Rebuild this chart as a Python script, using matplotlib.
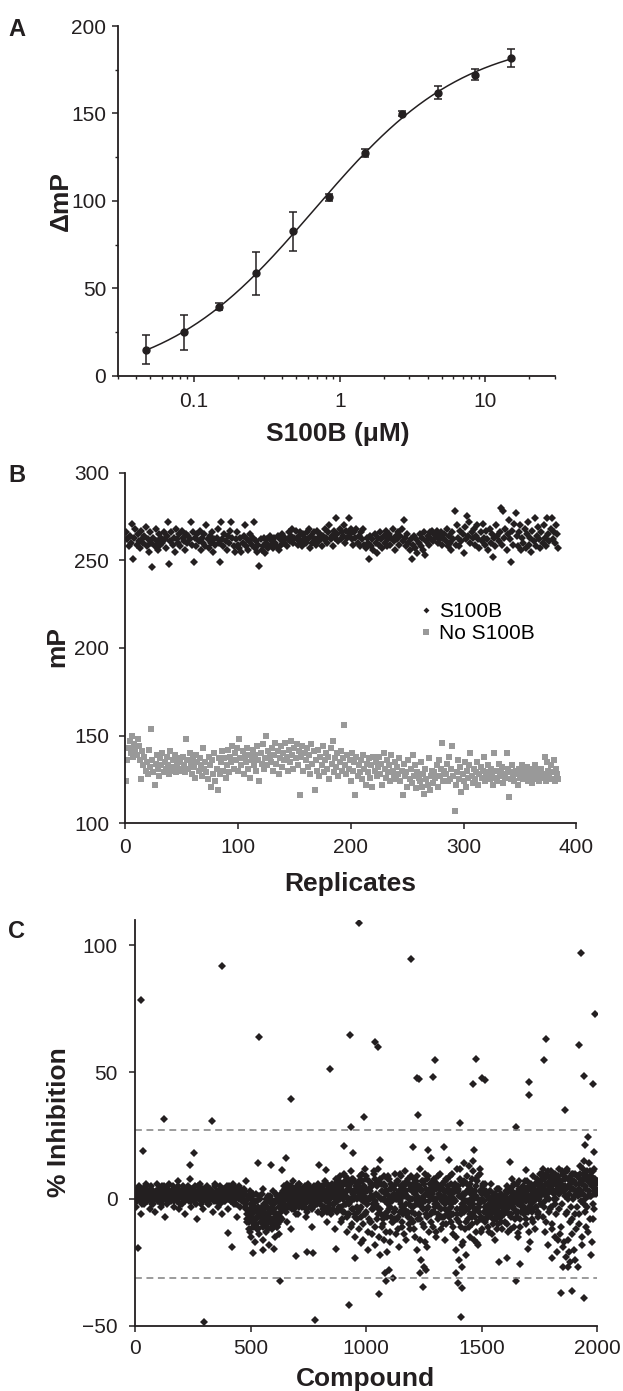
import numpy as np
import matplotlib.pyplot as plt
from matplotlib.lines import Line2D
from matplotlib.ticker import LogLocator, NullFormatter, MultipleLocator

plt.rcParams["font.family"] = ["Liberation Sans", "DejaVu Sans"]

# ---------------- Panel A: titration ----------------
conc = [0.047, 0.085, 0.149, 0.267, 0.474, 0.843, 1.5, 2.67, 4.74, 8.43, 15.0]
dmp = [14.9, 24.8, 39.3, 58.5, 82.6, 102.2, 127.4, 149.9, 161.9, 172.2, 181.9]
dmp_err = [8.3, 10.0, 2.0, 12.5, 11.0, 2.0, 2.2, 1.5, 3.8, 3.0, 5.2]

# ---------------- Panel B: Z' replicates ----------------
s100b = [
    266, 262, 258, 264, 260, 271, 251, 263, 268, 259, 265, 261, 257, 267, 262, 260,
    264, 269, 258, 262, 255, 266, 260, 246, 263, 258, 268, 261, 256, 265, 259, 263,
    260, 266, 262, 257, 264, 272, 248, 261, 266, 259, 263, 255, 268, 262, 260, 265,
    258, 267, 263, 261, 256, 265, 260, 264, 262, 272, 259, 266, 249, 263, 258, 265,
    261, 267, 256, 263, 260, 265, 258, 270, 262, 257, 264, 260, 266, 255, 262, 259,
    263, 268, 260, 249, 272, 262, 258, 265, 261, 256, 264, 260, 267, 272, 263, 258,
    255, 262, 266, 259, 257, 263, 255, 260, 264, 270, 258, 262, 256, 261, 265, 259,
    263, 272, 257, 261, 255, 259, 247, 262, 256, 258, 263, 254, 260, 262, 257, 264,
    259, 261, 257, 263, 260, 258, 264, 256, 262, 259, 265, 261, 260, 263, 258, 262,
    266, 261, 264, 268, 260, 263, 267, 262, 259, 264, 266, 261, 258, 265, 263, 260,
    266, 262, 268, 257, 264, 260, 266, 262, 259, 267, 263, 261, 265, 258, 264, 262,
    268, 263, 260, 266, 270, 262, 264, 258, 267, 263, 274, 265, 261, 268, 262, 266,
    264, 270, 260, 267, 263, 274, 265, 268, 262, 259, 266, 263, 268, 260, 264, 258,
    266, 262, 268, 259, 257, 263, 260, 251, 264, 258, 262, 256, 265, 260, 254, 263,
    259, 266, 262, 257, 264, 260, 267, 258, 262, 265, 259, 263, 268, 261, 256, 264,
    262, 266, 259, 264, 268, 261, 273, 263, 258, 265, 260, 256, 262, 251, 259, 264,
    257, 262, 254, 260, 265, 258, 263, 256, 266, 253, 261, 264, 259, 266, 262, 267,
    261, 265, 263, 267, 260, 264, 262, 266, 259, 263, 265, 261, 268, 258, 264, 260,
    256, 266, 262, 278, 259, 270, 263, 258, 267, 261, 265, 254, 269, 262, 275, 264,
    272, 260, 266, 263, 268, 259, 264, 270, 262, 257, 266, 261, 271, 263, 259, 267,
    262, 256, 268, 260, 265, 252, 263, 258, 270, 264, 261, 266, 280, 259, 278, 263,
    268, 256, 265, 273, 262, 249, 267, 259, 271, 277, 264, 258, 266, 270, 256, 263,
    260, 268, 257, 265, 272, 259, 263, 255, 267, 261, 274, 258, 264, 269, 262, 257,
    266, 260, 270, 263, 258, 274, 265, 261, 268, 274, 262, 266, 260, 270, 265, 257,
]
no_s100b = [
    124, 136, 143, 147, 140, 150, 138, 145, 142, 139, 148, 144, 136, 125, 141, 133,
    138, 130, 135, 128, 142, 132, 154, 136, 129, 122, 134, 139, 131, 127, 137, 133,
    140, 129, 135, 131, 138, 133, 128, 141, 130, 136, 132, 139, 129, 134, 137, 131,
    135, 130, 138, 133, 129, 148, 136, 131, 140, 134, 128, 137, 132, 126, 139, 135,
    130, 137, 133, 127, 143, 131, 135, 129, 125, 138, 133, 121, 136, 128, 140, 124,
    131, 119, 137, 128, 135, 141, 130, 137, 126, 133, 142, 129, 138, 135, 144, 131,
    140, 136, 143, 130, 148, 137, 133, 141, 128, 138, 135, 143, 131, 139, 126, 136,
    142, 133, 139, 130, 144, 136, 124, 140, 134, 145, 131, 137, 150, 133, 141, 138,
    135, 143, 130, 139, 146, 134, 141, 128, 137, 144, 132, 140, 136, 146, 138, 130,
    142, 135, 147, 139, 131, 143, 137, 145, 133, 141, 116, 138, 144, 130, 140, 136,
    143, 132, 139, 128, 145, 134, 141, 119, 136, 130, 142, 127, 138, 133, 144, 129,
    136, 140, 131, 138, 125, 143, 134, 147, 129, 137, 132, 140, 127, 135, 141, 130,
    137, 156, 133, 128, 139, 131, 136, 124, 140, 130, 135, 116, 138, 127, 133, 129,
    136, 125, 139, 131, 122, 134, 129, 137, 126, 133, 121, 138, 130, 135, 127, 132,
    138, 128, 134, 122, 140, 131, 126, 136, 129, 133, 124, 139, 130, 127, 135, 125,
    132, 128, 137, 124, 130, 116, 134, 127, 129, 121, 136, 125, 131, 123, 139, 127,
    133, 120, 129, 126, 124, 135, 121, 128, 117, 131, 125, 122, 137, 119, 127, 130,
    123, 129, 126, 133, 121, 136, 127, 131, 146, 124, 130, 128, 134, 124, 138, 125,
    131, 144, 127, 107, 122, 129, 136, 125, 132, 118, 128, 124, 135, 121, 130, 126,
    133, 140, 127, 123, 131, 125, 129, 135, 122, 128, 132, 126, 130, 138, 124, 129,
    127, 133, 125, 131, 128, 122, 140, 126, 130, 124, 134, 127, 129, 132, 123, 128,
    126, 140, 131, 115, 129, 125, 133, 127, 124, 130, 128, 122, 131, 126, 129, 133,
    125, 130, 127, 132, 124, 129, 126, 131, 123, 128, 133, 125, 130, 127, 124, 129,
    131, 126, 128, 138, 124, 135, 130, 127, 133, 125, 129, 136, 124, 131, 128, 125,
]

# ---------------- Panel C: pilot screen ----------------
# spread of the main band, compounds 0, 4, 8, ...
band_spread = [
    2, -3, 4, 0, 5, -1, 3, -6, 1, 4, -2, 2, 6, -1, 3, 0, -4, 5, 1, -2,
    3, 0, -5, 2, 6, -1, 4, 1, -3, 5, 0, 2, -7, 3, 1, -2, 4, 6, 0, -1,
    2, 5, -3, 1, 4, -1, 7, 0, -4, 3, 2, -2, 5, 1, -6, 4, 0, 3, -1, 8,
    1, -3, 4, 2, -1, 5, 0, -8, 3, 1, 6, -2, 2, 4, -4, 0, 3, -1, 5, 1,
    -2, 4, 1, 3, -5, 2, 0, 6, -1, 3, -3, 1, 5, 0, -6, 2, 4, -1, 3, 0,
    2, -4, 5, 1, -1, 3, 6, -2, 0, 4, -7, 2, 1, 5, -3, 3, 0, -1, 4, 2,
    7, -8, 0, -12, 3, -6, -15, 1, -9, -4, -17, 2, -11, -5, -14, 0, -7, -3, -16, 4,
    -10, -2, -13, -6, 1, -18, -8, -4, -12, 3, -9, -15, -1, -6, -11, 0, -14, -3, 2, -8,
    1, 5, -4, 2, -9, 6, 0, -2, 4, -12, 3, 7, -1, 1, -6, 5, 2, -3, 6, 0,
    4, -1, 3, 0, 5, -7, 2, 6, 1, -3, 4, 0, -11, 3, 5, -2, 1, 4, -5, 2,
    0, 3, -6, 5, 1, -3, 7, 2, -9, 4, 0, -5, 3, 6, -2, 1, -12, 4, 8, -1,
    5, -4, 9, 1, -8, 3, 10, -2, 6, -13, 0, 8, -6, 4, 11, -10, 2, 7, -15, 3,
    -3, 6, -12, 1, 9, -7, 4, -16, 0, 12, -5, 3, -20, 7, -9, 1, -14, 5, -2, 10,
    -18, 2, -8, 12, -4, -22, 6, -11, 0, -16, 9, -6, 3, -21, -2, 8, -13, 4, -9, 1,
    -5, 10, -14, 2, -8, 7, -19, 0, 5, -11, 3, -4, 11, -16, 1, -7, 6, -2, -12, 9,
    0, -9, 8, -15, 3, -20, 5, -6, 12, -2, -24, 7, -10, 1, -17, 4, -4, 9, -13, 2,
    -6, 5, -11, 0, 8, -3, -15, 6, -8, 2, 10, -12, -1, 4, -7, 7, -2, -10, 3, 0,
    -4, 9, -9, 2, -14, 5, -1, -20, 12, -6, 3, -24, 8, -11, 1, -17, 14, -3, -22, 6,
    -8, 13, -2, -15, 4, -10, 15, -5, 1, -13, 7, -18, -3, 10, -7, 2, -12, 5, -1, -9,
    3, -6, -11, 0, -4, 6, -14, -2, -8, 1, -16, -5, 4, -10, -3, -7, 2, -12, -1, -6,
    -9, 0, -4, 5, -13, -1, 3, -7, 8, -2, -11, 2, -5, 6, -15, 0, 4, -8, 1, -3,
    5, -6, 2, -10, 7, 0, -3, -17, 4, 1, -8, 9, -1, -12, 3, 6, -5, 0, 10, -2,
    8, 12, -7, 4, -13, 10, 2, -18, 6, -4, 11, -10, 3, 7, -15, 9, 0, -21, 5, 12,
    -14, 6, 11, -19, 3, 8, -23, 1, 12, -16, 5, -25, 9, -8, 4, -20, 10, -12, 2, -27,
    6, -10, 13, 2, -18, 8, 15, -5, 4, 11, -13, 7, 1, -22, 9, 5, -8, 12, 3, 6,
]
# core of the main band, compounds 2, 6, 10, ...
band_core = [
    1, 3, -1, 2, 0, 4, 1, -2, 3, 2, 0, 5, 1, -1, 2, 3, 0, 4, -2, 1,
    2, 0, 3, 1, -1, 4, 2, 0, 3, -2, 1, 5, 0, 2, 4, -1, 3, 1, 2, 0,
    3, 1, -1, 4, 2, 0, 5, 1, -2, 3, 2, 0, 4, 1, -1, 3, 2, 5, 0, 1,
    -1, 2, 4, 0, 3, 1, -2, 2, 5, 0, 1, 3, -1, 4, 2, 0, 3, 1, -2, 2,
    4, 1, 0, 3, 2, -1, 5, 1, 2, 0, 3, -2, 1, 4, 0, 2, -1, 3, 1, 5,
    0, 2, 3, -1, 4, 1, 0, 5, 2, -2, 3, 1, 0, 4, 2, -1, 1, 3, -3, 2,
    -2, -6, 1, -9, -4, -8, 0, -11, -5, -3, -10, -7, -1, -12, -6, -4, -9, 2, -8, -5,
    -7, -3, -10, -1, -6, -9, -4, 0, -11, -5, -2, -8, -6, 1, -10, -3, -7, -2, 0, -4,
    2, -1, 4, 0, -3, 3, 1, 5, -2, 2, 0, 4, -4, 1, 3, -1, 2, 6, 0, -2,
    3, 0, -2, 4, 1, -4, 2, 5, -1, 3, 0, 1, -3, 4, 2, 0, -2, 3, 1, 5,
    -1, 2, 4, 0, -3, 3, 1, -5, 2, 5, 0, -2, 4, 1, -4, 3, 6, 0, -1, 2,
    4, 0, -3, 6, 2, -5, 1, 7, -2, 3, -6, 5, 0, -1, 8, -4, 3, 1, -7, 4,
    0, -5, 5, 2, -3, 7, -1, 1, -6, 4, 9, -2, 0, -8, 3, 6, -4, 1, -3, 8,
    -2, 5, -6, 1, 7, -4, 0, 3, -8, 6, -1, 2, -5, 8, 0, -3, 4, -7, 1, 5,
    2, -4, 6, 0, -7, 3, -1, 9, -3, 1, -6, 5, 2, -2, 7, -5, 0, 4, -8, 3,
    -3, 4, 0, -6, 7, 1, -2, 5, -8, 3, 0, -4, 6, -1, 2, -7, 8, -3, 1, 4,
    1, -5, 3, 7, -2, 0, 5, -6, 2, -3, 4, 0, -7, 6, 1, -4, 3, 8, -1, -5,
    2, -3, 6, 0, -6, 4, -1, 3, -8, 5, 1, -4, 7, -2, 0, 6, -5, 2, -9, 3,
    -1, 4, -6, 2, 8, -3, 0, -7, 5, 1, -4, 9, -2, 3, -8, 0, 6, -5, 2, -3,
    -4, 1, -7, -2, 3, -5, 0, -8, -3, 2, -6, -1, 4, -5, -2, 1, -7, -3, 0, -4,
    -2, 3, -5, 0, -3, 4, -6, 1, -1, 5, -4, 0, 2, -7, -2, 3, 0, -5, 4, -1,
    1, -3, 4, -1, 2, -5, 5, 0, -2, 3, -4, 1, 6, -3, 0, 2, -6, 4, 1, 7,
    5, 2, 8, -1, 6, 3, 9, 0, 4, 7, -3, 5, 10, 2, -2, 6, 3, 8, -4, 5,
    3, 7, -2, 5, 9, 1, 4, -5, 8, 2, 6, -3, 10, 4, 0, 7, -6, 3, 9, 1,
    4, 8, -1, 6, 2, 10, 0, 5, 9, -3, 7, 3, 11, 1, 6, -2, 8, 4, 2, 7,
]
# wider part of the band from compound 481 on, compounds 481, 485, 489, ...
band_wide = [
    -4, -9, 0, -6, -13, -2, -7, 2, -10, -5, -1, -8, -12, -3, 1, -6, -9, -4, -11, -2,
    -6, 0, -9, -3, -12, -5, 1, -8, -2, -10, -4, -7, 2, -11, -6, -1, -9, -3, -5, 0,
    3, -2, 1, -5, 4, 0, -3, 2, -1, 5, -4, 1, 3, -2, 0, 4, -6, 2, -1, 3,
    1, -3, 4, 0, -2, 3, -5, 1, 5, -1, 2, -4, 0, 3, -2, 4, 1, -1, 6, 0,
    -2, 2, 5, -4, 1, 3, -1, 6, 0, -3, 4, 2, -6, 1, 5, -2, 3, 0, -5, 2,
    7, -3, 2, -9, 5, 0, -5, 9, 1, -7, 4, -2, 6, -11, 3, -4, 8, 0, -6, 5,
    -8, 3, 7, -4, 0, 10, -10, 2, 5, -6, 8, -2, -13, 4, 0, -9, 6, -4, 11, -1,
    -11, 6, -3, 1, -15, 8, -6, 3, -10, 0, 5, -13, 2, -7, 9, -4, -17, 6, -1, -9,
    4, -8, 0, 7, -12, 2, -5, 10, -2, -9, 6, -14, 1, 3, -6, 8, -10, 0, 5, -3,
    -5, 6, -12, 2, -2, 9, -8, 0, -16, 4, -3, 7, -11, 1, 10, -6, -19, 3, -1, 6,
    -9, 2, 7, -5, 0, -13, 4, -2, 9, -7, 1, -4, 6, -10, 3, -1, 8, -6, 0, 5,
    -7, 3, -2, 10, -11, 0, 6, -15, -4, 4, -9, 1, 12, -6, -18, 2, 7, -12, -1, 9,
    -4, -11, 6, 0, -7, 11, -2, -16, 3, 8, -9, 0, -5, 12, -13, 4, -1, -8, 6, -3,
    -8, 1, -3, -13, 3, -6, -1, -10, 2, -4, -8, 0, -12, -2, 4, -6, -9, -1, -5, 1,
    -5, 2, -10, -1, 4, -6, 0, -12, 3, -3, 6, -8, -1, 2, -5, 7, -11, -2, 3, 0,
    2, -4, 7, -8, 0, 4, -13, -1, 6, -5, 2, -9, 5, 0, -3, 8, -7, 3, 1, -2,
    10, 4, -3, 9, 1, -9, 6, 11, -5, 3, 8, -12, 7, 0, 10, -6, 4, -16, 9, 2,
    7, -11, 3, 10, -17, 5, -6, 11, 0, -21, 8, -9, 4, -14, 10, 1, -24, 6, -3, 9,
    -6, 10, 3, -15, 7, 12, -2, 5, -11, 9, 1, 14, -8, 6, -17, 11, 2, -4, 8, 4,
]
# scattered compounds away from the band
out_compound = [
    12, 26, 33, 125, 238, 254, 298, 334, 377, 401, 420, 509, 531, 535, 552, 590,
    600, 629, 636, 653, 675, 696, 744, 771, 780, 795, 826, 845, 872, 903, 927, 932,
    937, 944, 951, 969, 980, 992, 1037, 1051, 1057, 1061, 1083, 1087, 1100, 1117, 1195, 1205,
    1220, 1227, 1229, 1234, 1246, 1251, 1260, 1268, 1280, 1289, 1297, 1337, 1344, 1361, 1388, 1399,
    1405, 1412, 1417, 1417, 1465, 1469, 1477, 1481, 1503, 1515, 1575, 1611, 1623, 1650, 1650, 1657,
    1668, 1692, 1700, 1705, 1707, 1770, 1780, 1806, 1842, 1851, 1863, 1875, 1892, 1923, 1931, 1943,
    1943, 1949, 1962, 1983, 1988, 1991,
]
out_inhib = [
    -19.2, 78.5, 19.1, 31.7, 13.3, 18.3, -48.6, 30.9, 92.0, -13.5, -19.1, -21.4, 14.1, 64.0, -20.1, 13.3,
    -19.9, -32.2, 11.4, 16.0, 39.4, -22.5, -20.8, -21.4, -47.7, 13.3, 11.4, 51.1, -19.9, 20.9, -41.9, 64.5,
    28.3, 18.3, -23.1, 109.0, -17.5, 32.2, 62.0, 60.1, -37.5, 15.4, -29.0, -32.2, -28.0, -31.3, 94.5, 20.4,
    47.6, 33.3, 47.2, -29.3, -34.6, -26.7, -28.0, 19.3, 16.0, 48.2, 54.8, 20.6, -16.2, 15.4, -29.3, -33.3,
    30.1, -46.7, -35.2, -26.7, 45.4, 19.3, 55.1, -17.5, 47.6, 46.9, -25.0, -23.4, 14.7, 28.3, -32.2, -13.5,
    -25.8, 11.4, -19.9, 40.8, 46.0, 54.6, 63.0, -23.1, -37.2, -26.7, 35.1, -26.7, -36.2, 60.7, 96.9, 48.6,
    -39.2, 21.3, 24.6, 45.2, 18.7, 73.0,
]
cutoff_high = 27
cutoff_low = -31

# ---------------- Hill fit for panel A ----------------
x = np.array(conc)
y = np.array(dmp)
best = None
for ec50 in np.logspace(-1, 1, 161):
    for hill in np.linspace(0.5, 1.5, 101):
        f = 1.0 / (1.0 + (ec50 / x) ** hill)
        M = np.column_stack([1 - f, f])
        coef = np.linalg.lstsq(M, y, rcond=None)[0]
        r = np.sum((M @ coef - y) ** 2)
        if best is None or r < best[0]:
            best = (r, ec50, hill, coef)
_, ec50, hill, (bottom, top) = best
xf = np.logspace(np.log10(conc[0]), np.log10(conc[-1]), 300)
yf = bottom + (top - bottom) / (1.0 + (ec50 / xf) ** hill)

# ---------------- Figure ----------------
fig = plt.figure(figsize=(6.23, 13.91), dpi=100)
ink = "#231f20"
tick_fs = 15
label_fs = 19


def style(ax):
    for s in ["top", "right"]:
        ax.spines[s].set_visible(False)
    for s in ["left", "bottom"]:
        ax.spines[s].set_linewidth(1.3)
        ax.spines[s].set_color(ink)
    ax.tick_params(which="major", direction="out", length=4.5, width=1.1,
                   labelsize=tick_fs, colors=ink)
    ax.tick_params(which="minor", direction="out", length=2.5, width=1.0, colors=ink)


# A
axA = fig.add_axes([0.1894, 0.7299, 0.7014, 0.2514])
axA.plot(xf, yf, color=ink, lw=1.1)
axA.errorbar(conc, dmp, yerr=dmp_err, fmt="o", color=ink, ms=5, elinewidth=1.1,
             capsize=2.6, capthick=1.1)
axA.set_xscale("log")
axA.set_xlim(0.03, 30)
axA.set_ylim(0, 200)
axA.set_xticks([0.1, 1, 10])
axA.set_xticklabels(["0.1", "1", "10"])
axA.xaxis.set_minor_locator(LogLocator(base=10, subs=np.arange(2, 10)))
axA.xaxis.set_minor_formatter(NullFormatter())
axA.yaxis.set_major_locator(MultipleLocator(50))
axA.yaxis.set_minor_locator(MultipleLocator(25))
style(axA)
axA.tick_params(axis="x", which="major", pad=7)
axA.tick_params(axis="y", which="major", pad=4)
axA.set_xlabel("S100B (\u03bcM)", fontsize=label_fs, fontweight="bold", color=ink)
axA.set_ylabel("\u0394mP", fontsize=label_fs, fontweight="bold", color=ink)
axA.xaxis.set_label_coords(0.502, -0.132)
axA.yaxis.set_label_coords(-0.103, 0.5)

# B
axB = fig.add_axes([0.201, 0.4081, 0.7243, 0.2521])
rep = np.arange(1, len(s100b) + 1)
axB.plot(rep, s100b, "D", color=ink, ms=4.1, mew=0)
axB.plot(rep, no_s100b, "s", color="#999999", ms=5.0, mew=0)
axB.set_xlim(0, 400)
axB.set_ylim(100, 300)
axB.xaxis.set_major_locator(MultipleLocator(100))
axB.yaxis.set_major_locator(MultipleLocator(50))
style(axB)
axB.tick_params(axis="x", pad=6)
axB.tick_params(axis="y", pad=7)
axB.set_xlabel("Replicates", fontsize=label_fs, fontweight="bold", color=ink)
axB.set_ylabel("mP", fontsize=label_fs, fontweight="bold", color=ink)
axB.xaxis.set_label_coords(0.498, -0.138)
axB.yaxis.set_label_coords(-0.124, 0.504)
handles = [
    Line2D([], [], ls="none", marker="D", color=ink, ms=3.0, mew=0),
    Line2D([], [], ls="none", marker="s", color="#999999", ms=5.0, mew=0),
]
axB.legend(handles, ["S100B", "No S100B"], frameon=False, fontsize=15,
           loc="upper left", bbox_to_anchor=(0.63, 0.66), handlelength=0.6,
           handletextpad=0.3, labelspacing=0.15, borderpad=0)

# C
axC = fig.add_axes([0.2167, 0.0469, 0.7416, 0.2917])
dkw = dict(ls="none", marker="D", color=ink, ms=4.3, mew=0)
axC.plot(np.arange(0, 2000, 4), band_spread, **dkw)
axC.plot(np.arange(2, 2000, 4), band_core, **dkw)
axC.plot(np.arange(481, 2000, 4), band_wide, **dkw)
axC.plot(out_compound, out_inhib, **dkw)
axC.axhline(cutoff_high, color="#808080", lw=1.1, ls=(0, (4.5, 3)))
axC.axhline(cutoff_low, color="#808080", lw=1.1, ls=(0, (4.5, 3)))
axC.set_xlim(0, 2000)
axC.set_ylim(-50, 110)
axC.set_yticks([-50, 0, 50, 100])
axC.xaxis.set_major_locator(MultipleLocator(500))
style(axC)
axC.tick_params(axis="x", pad=5)
axC.tick_params(axis="y", pad=8)
axC.set_xlabel("Compound", fontsize=label_fs, fontweight="bold", color=ink)
axC.set_ylabel("% Inhibition", fontsize=label_fs, fontweight="bold", color=ink)
axC.xaxis.set_label_coords(0.498, -0.101)
axC.yaxis.set_label_coords(-0.139, 0.503)

# panel letters
for letter, yy in [("A", 0.979), ("B", 0.6585), ("C", 0.3300)]:
    fig.text(0.027, yy, letter, fontsize=17, fontweight="bold", color=ink,
             ha="center", va="center")

fig.savefig("out.png", dpi=100)
